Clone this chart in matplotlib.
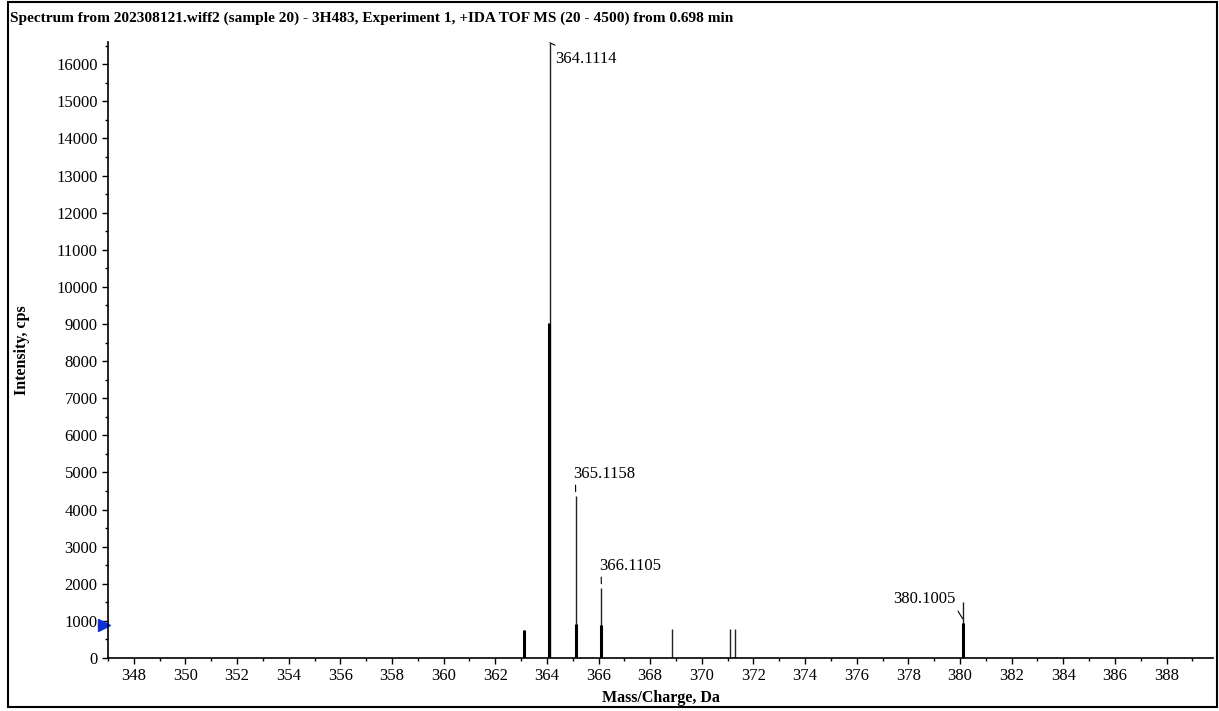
import matplotlib.pyplot as plt
from matplotlib.patches import Rectangle

plt.rcParams['font.family'] = ['Liberation Serif', 'DejaVu Serif']

# centroid sticks (thin) and profile bases (thick)
stick_mz = [363.10, 364.1114, 365.1158, 366.1105, 368.85, 371.10, 371.30, 380.1005]
stick_int = [760, 16580, 4370, 1890, 780, 780, 780, 1510]
base_mz = [363.10, 364.10, 365.11, 366.10, 380.10]
base_int = [760, 9030, 920, 900, 950]

label_mz = [364.1114, 365.1158, 366.1105, 380.1005]
label_int = [16580, 4370, 1890, 1510]
labels = ['364.1114', '365.1158', '366.1105', '380.1005']

title = 'Spectrum from 202308121.wiff2 (sample 20) - 3H483, Experiment 1, +IDA TOF MS (20 - 4500) from 0.698 min'

fig = plt.figure(figsize=(12.19, 7.11), dpi=100)
ax = fig.add_axes([108 / 1219, 53 / 711, 1105 / 1219, 616 / 711])

ax.vlines(stick_mz, 0, stick_int, color='#222222', linewidth=1.0)
ax.vlines(base_mz, 0, base_int, color='black', linewidth=2.2)

ax.set_xlim(347.03, 389.8)
ax.set_ylim(0, 16600)
ax.set_xticks(range(348, 390, 2))
ax.set_xticks(range(347, 390), minor=True)
ax.set_yticks(range(0, 16001, 1000))
ax.set_yticks(range(0, 16501, 500), minor=True)
ax.tick_params(labelsize=12, length=4, width=1, direction='out')
ax.tick_params(which='minor', length=2, width=1)
for s in ['top', 'right']:
    ax.spines[s].set_visible(False)
for s in ['left', 'bottom']:
    ax.spines[s].set_linewidth(1.2)

# peak labels
ax.annotate(labels[0], (label_mz[0], label_int[0]), xytext=(4, -12), textcoords='offset points',
            fontsize=12, va='center', ha='left',
            arrowprops=dict(arrowstyle='-', color='black', lw=0.8, shrinkA=6, shrinkB=0))
for i in (1, 2):
    ax.annotate(labels[i], (label_mz[i], label_int[i]), xytext=(-1.5, 16), textcoords='offset points',
                fontsize=12, va='center', ha='left',
                arrowprops=dict(arrowstyle='-', color='black', lw=0.8, relpos=(0.03, 0),
                                shrinkA=0.5, shrinkB=3))
ax.annotate(labels[3], (label_mz[3], label_int[3] - 450), xytext=(-5, 14), textcoords='offset points',
            fontsize=12, va='center', ha='right',
            arrowprops=dict(arrowstyle='-', color='black', lw=0.8, relpos=(1, 0),
                            shrinkA=1, shrinkB=0))

# blue marker on the y axis
ax.plot([346.85], [880], marker='>', color='#1030d0', markersize=8, clip_on=False)

ax.set_xlabel('Mass/Charge, Da', fontsize=11.5, fontweight='bold', labelpad=4)
ax.set_ylabel('Intensity, cps', fontsize=11.5, fontweight='bold', labelpad=19)
fig.text(10 / 1219, 1 - 18 / 711, title, fontsize=11.1, fontweight='bold', va='center', ha='left')

fig.patches.append(Rectangle((8 / 1219, 4 / 711), 1209 / 1219, 705 / 711, transform=fig.transFigure,
                             fill=False, edgecolor='black', linewidth=1.5))

fig.savefig('out.png', dpi=100)
